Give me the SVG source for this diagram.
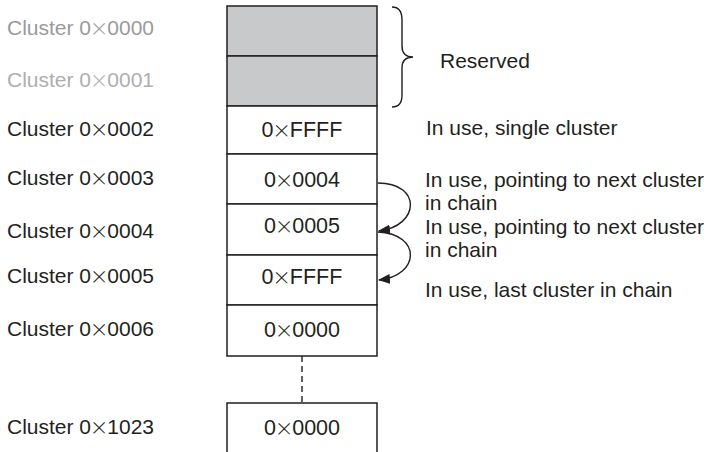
<svg xmlns="http://www.w3.org/2000/svg" width="709" height="452" viewBox="0 0 709 452">
<style>
text{font-family:"Liberation Sans",Arial,sans-serif;font-size:21px;fill:#231f20}
.v{text-anchor:middle;font-size:21.5px}
.x{font-family:Lato,"Liberation Sans",sans-serif;font-weight:300;font-size:28px}
.cell{fill:#fff;stroke:#231f20;stroke-width:1.5}
.res{fill:#c8c9cb;stroke:#231f20;stroke-width:1.5}
.g1{fill:#9a9a9c}
.g2{fill:#aeaeb0}
.con{fill:none;stroke:#231f20;stroke-width:1.4}
</style>
<defs>
<marker id="ah" viewBox="0 0 12 10" refX="11" refY="5" markerWidth="12" markerHeight="10" markerUnits="userSpaceOnUse" orient="auto">
<path d="M0,0 L12,5 L0,10 z" fill="#231f20"/>
</marker>
</defs>
<g id="labels">
<text x="7" y="35" class="g1">Cluster 0<tspan class="x" dy="3">×</tspan><tspan dy="-3">0000</tspan></text>
<text x="7" y="87" class="g2">Cluster 0<tspan class="x" dy="3">×</tspan><tspan dy="-3">0001</tspan></text>
<text x="7" y="136">Cluster 0<tspan class="x" dy="3">×</tspan><tspan dy="-3">0002</tspan></text>
<text x="7" y="185">Cluster 0<tspan class="x" dy="3">×</tspan><tspan dy="-3">0003</tspan></text>
<text x="7" y="238">Cluster 0<tspan class="x" dy="3">×</tspan><tspan dy="-3">0004</tspan></text>
<text x="7" y="283">Cluster 0<tspan class="x" dy="3">×</tspan><tspan dy="-3">0005</tspan></text>
<text x="7" y="336">Cluster 0<tspan class="x" dy="3">×</tspan><tspan dy="-3">0006</tspan></text>
<text x="7" y="434">Cluster 0<tspan class="x" dy="3">×</tspan><tspan dy="-3">1023</tspan></text>
</g>
<g id="c0"><rect class="res" x="227" y="6" width="150" height="50"/></g>
<g id="c1"><rect class="res" x="227" y="56" width="150" height="50"/></g>
<g id="c2"><rect class="cell" x="227" y="106" width="150" height="48"/><text class="v" x="302" y="137">0<tspan class="x" dy="3">×</tspan><tspan dy="-3">FFFF</tspan></text></g>
<g id="c3"><rect class="cell" x="227" y="154" width="150" height="50"/><text class="v" x="302" y="187">0<tspan class="x" dy="3">×</tspan><tspan dy="-3">0004</tspan></text></g>
<g id="c4"><rect class="cell" x="227" y="204" width="150" height="51"/><text class="v" x="302" y="233">0<tspan class="x" dy="3">×</tspan><tspan dy="-3">0005</tspan></text></g>
<g id="c5"><rect class="cell" x="227" y="255" width="150" height="50"/><text class="v" x="302" y="284">0<tspan class="x" dy="3">×</tspan><tspan dy="-3">FFFF</tspan></text></g>
<g id="c6"><rect class="cell" x="227" y="305" width="150" height="51"/><text class="v" x="302" y="337">0<tspan class="x" dy="3">×</tspan><tspan dy="-3">0000</tspan></text></g>
<g id="c1023"><path class="cell" d="M227,453 L227,403 L377,403 L377,453"/><text class="v" x="302" y="435">0<tspan class="x" dy="3">×</tspan><tspan dy="-3">0000</tspan></text></g>
<g id="connectors">
<path class="con" d="M302,356 L302,403" stroke-dasharray="6,4"/>
<path class="con" d="M378,183 C422,183 420,226 379,231" marker-end="url(#ah)"/>
<path class="con" d="M378,232 C422,234 420,276 379,280" marker-end="url(#ah)"/>
<path class="con" d="M392,7 Q402,7 402,20 L402,46 Q402,57 413,57 Q402,57 402,68 L402,95 Q402,107 392,107"/>
</g>
<g id="notes">
<text x="440" y="68">Reserved</text>
<text x="426" y="135">In use, single cluster</text>
<text x="425" y="187">In use, pointing to next cluster</text>
<text x="425" y="210">in chain</text>
<text x="425" y="234">In use, pointing to next cluster</text>
<text x="425" y="257">in chain</text>
<text x="425" y="297">In use, last cluster in chain</text>
</g>
</svg>
